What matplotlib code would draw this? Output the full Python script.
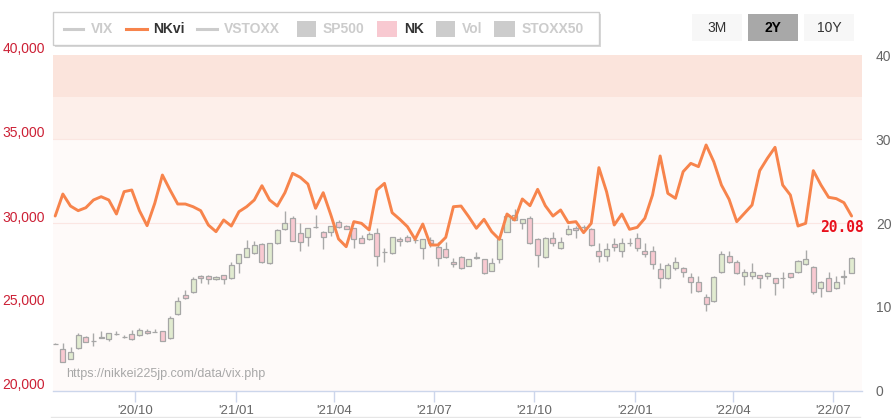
import matplotlib
matplotlib.use('Agg')
import matplotlib.pyplot as plt
import matplotlib.dates as mdates
import matplotlib.transforms as mtransforms
from matplotlib.patches import Rectangle
from matplotlib.lines import Line2D
import pandas as pd

plt.rcParams['font.family'] = ['Liberation Sans', 'DejaVu Sans']

# ---------------- data ----------------
week_start = '2020-07-20'
n_weeks = 105
nk_open = [22810, 22480, 21920, 22540, 23200, 22990, 23180, 23110, 23400, 23240,
           23380, 23320, 23590, 23540, 23560, 23140, 24580, 25700, 25880, 26860,
           26860, 26650, 26890, 26710, 27600, 27990, 28200, 28750, 27600, 28790,
           29620, 30280, 29390, 29150, 29760, 29440, 29440, 30080, 29840, 29680,
           29090, 29030, 29390, 28300, 28190, 29050, 29150, 29000, 28490, 29000,
           28590, 28450, 27680, 28000, 27440, 27940, 27840, 27160, 27840, 29480,
           30180, 29980, 30280, 29030, 27960, 29090, 28490, 29330, 29700, 29760,
           29620, 28350, 28060, 28730, 28350, 28800, 29090, 28330, 28330, 27240,
           26710, 27300, 27320, 26810, 26470, 25620, 25340, 27080, 28060, 27700,
           26850, 26850, 26890, 26850, 26710, 26730, 27000, 27060, 27540, 27400,
           26110, 26750, 26110, 26870, 27040]
nk_high = [22830, 22880, 22640, 23430, 23290, 23470, 23570, 23440, 23590, 23330,
           23660, 23750, 23680, 23700, 23580, 24470, 25610, 26030, 26770, 26900,
           26900, 26820, 26930, 27680, 28140, 28990, 28950, 28830, 28800, 29620,
           30730, 30400, 29980, 29720, 30460, 29500, 29850, 30180, 29880, 29700,
           29290, 29480, 29680, 28530, 29190, 29190, 29270, 29200, 29050, 29140,
           28890, 28870, 27920, 28060, 27880, 28270, 27880, 27900, 29100, 30540,
           30810, 30250, 30400, 29100, 29150, 29480, 29190, 29880, 29820, 29880,
           29680, 28790, 28830, 29090, 29090, 29090, 29390, 28790, 28630, 27600,
           27640, 27960, 27360, 27040, 26850, 25770, 26830, 28350, 28330, 27800,
           27240, 27600, 26920, 27100, 26740, 27100, 27050, 27790, 28390, 27450,
           26540, 27100, 26850, 27200, 28000]
nk_low = [22780, 21710, 21900, 22520, 22900, 22680, 23150, 22960, 23360, 23130,
          23030, 23300, 23420, 23490, 22950, 23100, 24550, 25480, 25850, 26450,
          26370, 26620, 26370, 26690, 27040, 27960, 28170, 27630, 27560, 28760,
          29600, 28940, 28350, 28630, 29700, 28430, 29250, 29700, 29630, 28490,
          28780, 29000, 27440, 27660, 28170, 28630, 28880, 28800, 27840, 28600,
          27440, 27900, 27360, 27270, 27420, 27880, 26950, 27140, 27640, 29450,
          30150, 29620, 28750, 27360, 27930, 28630, 28470, 29300, 29090, 29620,
          28630, 27660, 27740, 28350, 27960, 28630, 28350, 27960, 27240, 26110,
          26690, 27200, 26770, 25810, 25880, 24760, 25300, 27050, 27640, 26980,
          26310, 26650, 26110, 26650, 25710, 26110, 26700, 27040, 27500, 25780,
          25580, 25950, 26090, 26350, 27010]
nk_close = [22790, 21750, 22340, 23330, 22920, 22950, 23210, 23430, 23420, 23220,
            23070, 23660, 23440, 23520, 23000, 24330, 25380, 25520, 26650, 26710,
            26650, 26790, 26650, 27480, 28140, 28490, 28670, 27660, 28790, 29580,
            29980, 28950, 28870, 29680, 29740, 29150, 29820, 29740, 29660, 29030,
            28810, 29330, 28060, 28290, 29190, 28950, 28950, 28960, 29030, 28780,
            27900, 27960, 27540, 27300, 27860, 27960, 27000, 27600, 29030, 30420,
            30480, 30220, 28790, 28080, 29090, 28790, 28890, 29620, 29610, 29745,
            28690, 28060, 28430, 28550, 28790, 28790, 28490, 28140, 27540, 26750,
            27480, 27700, 27060, 26470, 25970, 25160, 26810, 28140, 27660, 27000,
            27080, 27080, 26710, 27000, 26410, 26750, 26770, 27760, 27860, 25910,
            26510, 25970, 26510, 26810, 27900]
nkvi = [20.83, 23.45, 22.02, 21.47, 21.82, 22.74, 23.13, 22.74, 21.07, 23.73,
        23.93, 21.47, 19.68, 22.34, 25.71, 23.93, 22.26, 22.26, 21.94, 21.47,
        19.76, 18.97, 20.36, 19.64, 21.35, 21.94, 22.74, 24.44, 22.74, 22.02,
        23.61, 25.91, 25.44, 24.64, 21.75, 23.61, 20.95, 18.10, 17.18, 20.16,
        19.96, 19.17, 23.93, 24.72, 21.23, 20.44, 19.56, 18.06, 19.88, 17.38,
        17.38, 18.29, 21.94, 22.02, 20.75, 19.37, 20.44, 18.97, 18.06, 21.07,
        20.36, 22.86, 22.06, 24.01, 22.06, 20.83, 21.55, 20.04, 20.16, 18.85,
        19.96, 26.59, 23.73, 19.76, 21.07, 19.25, 19.48, 20.56, 23.33, 27.98,
        23.53, 22.94, 26.11, 27.10, 26.71, 29.29, 27.30, 24.52, 22.82, 20.16,
        21.15, 22.14, 26.23, 27.70, 29.01, 24.52, 23.33, 19.64, 19.96, 26.23,
        24.52, 23.06, 22.90, 22.42, 20.83]
last_label = '20.08'
tick_dates = ['2020-10-01', '2021-01-01', '2021-04-01', '2021-07-01',
              '2021-10-01', '2022-01-01', '2022-04-01', '2022-07-01']
tick_labels = ["'20/10", "'21/01", "'21/04", "'21/07",
               "'21/10", "'22/01", "'22/04", "'22/07"]
left_ticks = [20000, 25000, 30000, 35000, 40000]
right_ticks = [0, 10, 20, 30, 40]
legend_names = ['VIX', 'NKvi', 'VSTOXX', 'SP500', 'NK', 'Vol', 'STOXX50']
buttons = ['3M', '2Y', '10Y']

# ---------------- figure ----------------
W, H = 893, 418
fig = plt.figure(figsize=(W / 100, H / 100), dpi=100)
fig.patch.set_facecolor('white')

def fx(x):
    return x / W

def fy(y):
    return 1 - y / H

L, R, T, B = 53, 862, 55, 391
ax = fig.add_axes([fx(L), fy(B), (R - L) / W, (B - T) / H])
ax2 = ax.twinx()

dates = pd.date_range(week_start, periods=n_weeks, freq='7D')
x = mdates.date2num(dates)

ax.set_xlim(mdates.date2num(pd.Timestamp('2020-07-18')),
            mdates.date2num(pd.Timestamp('2022-07-27 12:00')))
ax.set_ylim(20000, 40000)
ax2.set_ylim(0, 40)

# plot bands
ax.axhspan(37500, 40000, color='#fbe4dc', lw=0, zorder=0)
ax.axhspan(35000, 37500, color='#fdefea', lw=0, zorder=0)
ax.axhspan(20000, 35000, color='#fefaf9', lw=0, zorder=0)
ax.axhline(35000, color='#fbe6e1', lw=0.8, zorder=0.5)
ax.axhline(30000, color='#fbe6e3', lw=0.8, zorder=0.5)

# candles
bottoms = [min(o, c) for o, c in zip(nk_open, nk_close)]
heights = [abs(c - o) for o, c in zip(nk_open, nk_close)]
fills = ['#e1ebd0' if c >= o else '#f8c9d1' for o, c in zip(nk_open, nk_close)]
ax.vlines(x, nk_low, nk_high, color='#a9a9a9', lw=1.0, zorder=2)
ax.bar(x, heights, bottom=bottoms, width=4.6, color=fills,
       edgecolor='#a6a6a6', linewidth=0.9, zorder=3)

# NKvi line
ax2.plot(x, nkvi, color='#f7844c', lw=2.1, zorder=5,
         solid_joinstyle='round', solid_capstyle='round')
ax2.text(0.975, 0.486, last_label, transform=ax2.transAxes, ha='center',
         va='center', color='#e8101c', fontsize=10.5, fontweight='bold',
         family='DejaVu Sans Mono', zorder=6, clip_on=False)

# watermark
ax.text((66 - L) / (R - L), (B - 374) / (B - T),
        'https://nikkei225jp.com/data/vix.php', transform=ax.transAxes,
        ha='left', va='center', color='#a8a8a8', fontsize=9, zorder=4)

# axes styling
for s in ax.spines.values():
    s.set_visible(False)
for s in ax2.spines.values():
    s.set_visible(False)
ax.spines['bottom'].set_visible(True)
ax.spines['bottom'].set_color('#ccd6eb')
ax.spines['bottom'].set_linewidth(1)

ax.set_xticks([mdates.date2num(pd.Timestamp(d)) for d in tick_dates])
ax.set_xticklabels(tick_labels)
ax.tick_params(axis='x', length=8, width=1, color='#ccd6eb',
               labelcolor='#666666', labelsize=9.5, pad=2)
ax.set_yticks(left_ticks)
ax.set_yticklabels([f'{v:,}' for v in left_ticks])
ax.tick_params(axis='y', length=0, labelcolor='#cc2035', labelsize=10, pad=6)
ax2.set_yticks(right_ticks)
ax2.set_yticklabels([str(v) for v in right_ticks])
ax2.tick_params(axis='y', length=0, labelcolor='#666666', labelsize=10, pad=10)

off = mtransforms.ScaledTranslation(0, 7 / 100, fig.dpi_scale_trans)
for lbl in ax.get_yticklabels():
    lbl.set_transform(lbl.get_transform() + off)

# legend box (drawn as figure artists)
bx0, by0, bx1, by1 = 53, 12, 599, 45
fig.add_artist(Rectangle((fx(bx0 + 2), fy(by1 + 2)), (bx1 - bx0) / W, (by1 - by0) / H,
                         transform=fig.transFigure, facecolor='#d9d9d9',
                         edgecolor='none', zorder=1))
fig.add_artist(Rectangle((fx(bx0), fy(by1)), (bx1 - bx0) / W, (by1 - by0) / H,
                         transform=fig.transFigure, facecolor='white',
                         edgecolor='#cccccc', lw=1, zorder=2))
ly = 29
hidden = '#cccccc'
items = [
    ('line', 64, 83, 91, hidden, hidden),
    ('line', 126, 147, 153, '#f7844c', '#333333'),
    ('line', 197, 217, 224, hidden, hidden),
    ('box', 297, 316, 323, '#cccccc', hidden),
    ('box', 377, 397, 404, '#f8c9d1', '#333333'),
    ('box', 436, 455, 462, '#cccccc', hidden),
    ('box', 494, 515, 522, '#cccccc', hidden),
]
for name, (kind, s0, s1, tx, sc, tc) in zip(legend_names, items):
    if kind == 'line':
        fig.add_artist(Line2D([fx(s0), fx(s1)], [fy(ly), fy(ly)],
                              transform=fig.transFigure, color=sc, lw=2.2, zorder=3))
    else:
        fig.add_artist(Rectangle((fx(s0), fy(ly + 8)), (s1 - s0) / W, 16 / H,
                                 transform=fig.transFigure, facecolor=sc,
                                 edgecolor='none', zorder=3))
    fig.text(fx(tx), fy(ly), name, color=tc, fontsize=10, fontweight='bold',
             ha='left', va='center', zorder=4)

# range buttons
bdefs = [(692, 742, False), (748, 798, True), (804, 854, False)]
for lab, (b0, b1, sel) in zip(buttons, bdefs):
    fig.add_artist(Rectangle((fx(b0), fy(41)), (b1 - b0) / W, 27 / H,
                             transform=fig.transFigure,
                             facecolor='#a8a8a8' if sel else '#f7f7f7',
                             edgecolor='none', zorder=2))
    fig.text(fx((b0 + b1) / 2), fy(27.5), lab,
             color='#000000' if sel else '#333333', fontsize=10,
             fontweight='bold' if sel else 'normal', ha='center', va='center')

# faint bottom rule
fig.add_artist(Line2D([fx(51), fx(860)], [fy(416.5), fy(416.5)],
                      transform=fig.transFigure, color='#e6e6e6', lw=1))

fig.savefig('out.png', dpi=100, facecolor='white')
